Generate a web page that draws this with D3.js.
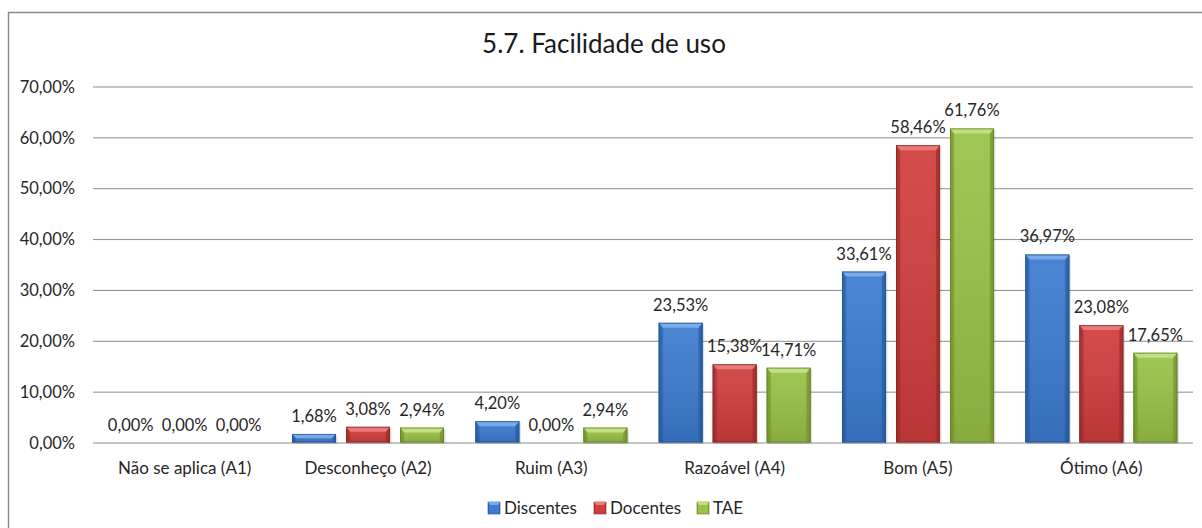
<!DOCTYPE html>
<html>
<head>
<meta charset="utf-8">
<script src="https://cdn.jsdelivr.net/npm/d3@7"></script>
<style>
  html, body { margin: 0; padding: 0; background: #fff; }
  svg { display: block; }
  text { font-family: Lato, "Open Sans", sans-serif; fill: #262626; }
</style>
</head>
<body>
<svg id="chart" width="1202" height="528"></svg>
<script>
// Survey answers, percentage per group
const categories = ["Não se aplica (A1)", "Desconheço (A2)", "Ruim (A3)", "Razoável (A4)", "Bom (A5)", "Ótimo (A6)"];
const seriesNames = ["Discentes", "Docentes", "TAE"];
const discentes = [0.00, 1.68, 4.20, 23.53, 33.61, 36.97];
const docentes  = [0.00, 3.08, 0.00, 15.38, 58.46, 23.08];
const tae       = [0.00, 2.94, 2.94, 14.71, 61.76, 17.65];
const yTicks = [0, 10, 20, 30, 40, 50, 60, 70];
const title = "5.7. Facilidade de uso";

const seriesValues = [discentes, docentes, tae];
const palette = {
  Discentes: { base: "#3b7bd0", light: "#79aaea", dark: "#275ea8", edge: "#23508f" },
  Docentes:  { base: "#d03d3d", light: "#ea7a7a", dark: "#a52c2c", edge: "#8c2424" },
  TAE:       { base: "#98c247", light: "#c2df83", dark: "#77982f", edge: "#627f27" }
};

const fmt = v => v.toFixed(2).replace(".", ",") + "%";

const svg = d3.select("#chart");
const defs = svg.append("defs");

// horizontal shading so each bar looks rounded at the sides
seriesNames.forEach((s, i) => {
  const c = palette[s];
  const g = defs.append("linearGradient").attr("id", "body" + i)
    .attr("x1", "0").attr("x2", "1").attr("y1", "0").attr("y2", "0");
  g.append("stop").attr("offset", "0").attr("stop-color", c.dark);
  g.append("stop").attr("offset", "0.12").attr("stop-color", c.base);
  g.append("stop").attr("offset", "0.5").attr("stop-color", c.base);
  g.append("stop").attr("offset", "0.88").attr("stop-color", c.base);
  g.append("stop").attr("offset", "1").attr("stop-color", c.dark);
  const v = defs.append("linearGradient").attr("id", "shade" + i)
    .attr("x1", "0").attr("x2", "0").attr("y1", "0").attr("y2", "1");
  v.append("stop").attr("offset", "0").attr("stop-color", "#fff").attr("stop-opacity", 0.08);
  v.append("stop").attr("offset", "1").attr("stop-color", "#000").attr("stop-opacity", 0.12);
});

// outer chart frame (runs past the right and bottom edges)
svg.append("rect")
  .attr("x", 8.5).attr("y", 12.5).attr("width", 1220).attr("height", 540)
  .attr("fill", "#fff").attr("stroke", "#8a8a8a").attr("stroke-width", 1.5);

// title
svg.append("text")
  .attr("x", 604).attr("y", 53)
  .attr("text-anchor", "middle")
  .style("font-size", "26px")
  .style("fill", "#1a1a1a")
  .text(title);

const plot = { left: 93, right: 1193, top: 86.5, bottom: 442.5 };

const x0 = d3.scaleBand().domain(categories).range([plot.left, plot.right]).padding(0);
const x1 = d3.scaleBand().domain(seriesNames).range([0, x0.bandwidth()])
  .paddingInner(0.185).paddingOuter(0.29);
const y = d3.scaleLinear().domain([0, 70]).range([plot.bottom, plot.top]);

// gridlines and y labels
const yAxis = d3.axisLeft(y).tickValues(yTicks).tickFormat(fmt)
  .tickSize(-(plot.right - plot.left)).tickPadding(18);
const gy = svg.append("g").attr("transform", `translate(${plot.left},0)`).call(yAxis);
gy.select(".domain").remove();
gy.selectAll(".tick line").attr("stroke", "#8c8c8c").attr("stroke-width", 1);
gy.selectAll(".tick text")
  .style("font-family", "Lato, sans-serif").style("font-size", "16.5px").attr("fill", "#262626")
  .attr("dy", "0.35em");

// category labels
const xAxis = d3.axisBottom(x0).tickSize(0).tickPadding(19);
const gx = svg.append("g").attr("transform", `translate(0,${plot.bottom})`).call(xAxis);
gx.select(".domain").remove();
gx.selectAll(".tick text")
  .style("font-family", "Lato, sans-serif").style("font-size", "17px").attr("fill", "#262626");

// bars
const rows = categories.map((c, ci) => ({
  cat: c,
  items: seriesNames.map((s, si) => ({ s, si, v: seriesValues[si][ci] }))
}));

const groups = svg.append("g").selectAll("g.cat").data(rows).join("g")
  .attr("class", "cat")
  .attr("transform", d => `translate(${x0(d.cat)},0)`);

const bars = groups.selectAll("g.bar").data(d => d.items).join("g").attr("class", "bar");

bars.each(function (d) {
  const g = d3.select(this);
  const bx = x1(d.s), bw = x1.bandwidth();
  const top = y(d.v), h = y(0) - top;
  if (h <= 0.2) return;
  const c = palette[d.s];
  const b = Math.min(5, h / 2), e = Math.min(4, h / 2);
  // soft shadow
  g.append("rect").attr("x", bx + 1.5).attr("y", top + 1.5).attr("width", bw).attr("height", h)
    .attr("fill", "#000").attr("opacity", 0.12);
  g.append("rect").attr("x", bx).attr("y", top).attr("width", bw).attr("height", h)
    .attr("fill", `url(#body${d.si})`);
  g.append("rect").attr("x", bx).attr("y", top).attr("width", bw).attr("height", h)
    .attr("fill", `url(#shade${d.si})`);
  // bevel facets
  g.append("polygon")
    .attr("points", [[bx, top], [bx + bw, top], [bx + bw - e, top + b], [bx + e, top + b]].join(" "))
    .attr("fill", c.light);
  g.append("polygon")
    .attr("points", [[bx, top], [bx + e, top + b], [bx + e, y(0) - Math.min(2, h / 3)], [bx, y(0)]].join(" "))
    .attr("fill", c.dark).attr("opacity", 0.55);
  g.append("polygon")
    .attr("points", [[bx + bw, top], [bx + bw - e, top + b], [bx + bw - e, y(0) - Math.min(2, h / 3)], [bx + bw, y(0)]].join(" "))
    .attr("fill", c.dark).attr("opacity", 0.7);
  g.append("rect").attr("x", bx + 0.5).attr("y", top + 0.5).attr("width", bw - 1).attr("height", Math.max(0, h - 1))
    .attr("fill", "none").attr("stroke", c.edge).attr("stroke-width", 1).attr("opacity", 0.7);
});

// value labels
bars.append("text")
  .attr("x", d => x1(d.s) + x1.bandwidth() / 2)
  .attr("y", d => y(d.v) - 12)
  .attr("text-anchor", "middle")
  .style("font-size", "16.5px")
  .text(d => fmt(d.v));

// legend
const legend = svg.append("g").attr("transform", "translate(488,502)");
const legendX = [0, 106, 209];
const li = legend.selectAll("g").data(seriesNames).join("g")
  .attr("transform", (d, i) => `translate(${legendX[i]},0)`);
li.append("rect").attr("width", 12).attr("height", 12)
  .attr("fill", (d, i) => `url(#body${i})`)
  .attr("stroke", d => palette[d].edge).attr("stroke-width", 0.6);
li.append("polygon").attr("points", "0,0 12,0 10,3 2,3").attr("fill", d => palette[d].light);
li.append("text").attr("x", 16).attr("y", 11.5).style("font-size", "17px").text(d => d);
</script>
</body>
</html>
